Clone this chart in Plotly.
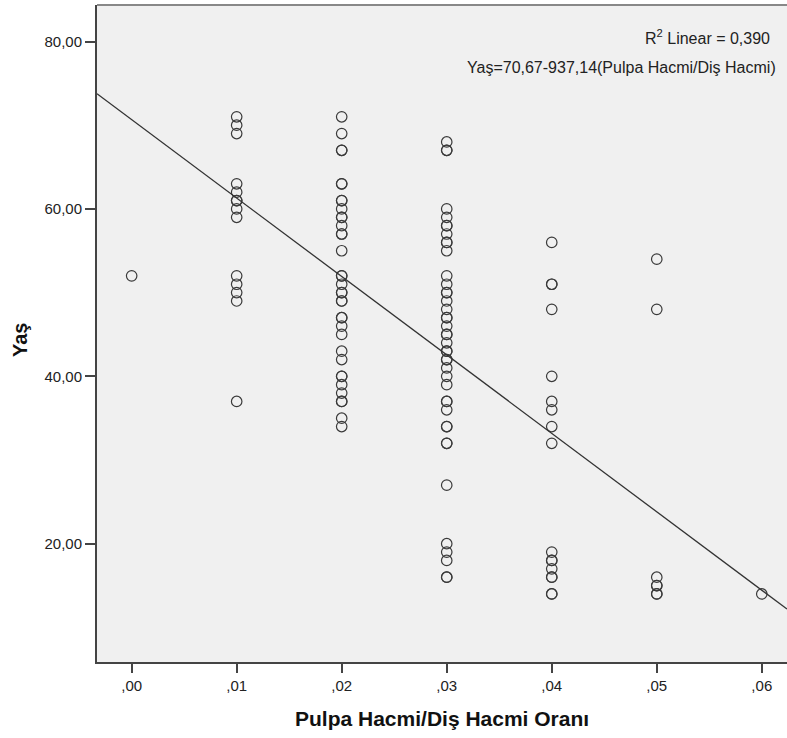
import plotly.graph_objects as go

# Ratio levels (Pulpa Hacmi / Diş Hacmi Oranı)
ratio_levels = [0.00, 0.01, 0.02, 0.03, 0.04, 0.05, 0.06]
tick_labels_x = [",00", ",01", ",02", ",03", ",04", ",05", ",06"]

# Ages (Yaş) at each ratio level
ages_00 = [52]
ages_01 = [71, 70, 69, 63, 62, 61, 61, 60, 59, 52, 51, 50, 49, 37]
ages_02 = [71, 69, 67, 67, 63, 63, 61, 61, 60, 59, 59, 58, 57, 57, 55, 52, 52,
           51, 50, 50, 49, 49, 47, 47, 46, 45, 43, 42, 40, 40, 39, 38, 37, 37, 35, 34]
ages_03 = [68, 67, 67, 60, 59, 58, 58, 57, 56, 56, 55, 52, 51, 50, 50, 49, 48, 47, 47,
           46, 45, 45, 44, 43, 43, 42, 42, 41, 40, 39, 37, 37, 36, 34, 34, 32, 32,
           27, 20, 19, 18, 16, 16]
ages_04 = [56, 51, 51, 48, 40, 37, 36, 34, 32, 19, 18, 18, 17, 16, 16, 14, 14]
ages_05 = [54, 48, 16, 15, 15, 14, 14]
ages_06 = [14]

age_groups = [ages_00, ages_01, ages_02, ages_03, ages_04, ages_05, ages_06]

# Fit line (from the chart annotation)
intercept = 70.67
slope = -937.14
r_squared = "0,390"

y_tick_vals = [20, 40, 60, 80]
y_tick_text = ["20,00", "40,00", "60,00", "80,00"]

x_range = [-0.0033, 0.0624]
y_range = [5.87, 84.36]

xs, ys = [], []
for lvl, grp in zip(ratio_levels, age_groups):
    for a in grp:
        xs.append(lvl)
        ys.append(a)

font_family = "Liberation Sans, Arial, sans-serif"
dark = "#333333"

fig = go.Figure()
fig.add_trace(go.Scatter(
    x=xs, y=ys, mode="markers",
    marker=dict(symbol="circle-open", size=10.5, color="#3a3a3a",
                line=dict(width=1.2, color="#3a3a3a")),
    hoverinfo="x+y", showlegend=False,
))

line_x = list(x_range)
line_y = [intercept + slope * v for v in line_x]
fig.add_trace(go.Scatter(
    x=line_x, y=line_y, mode="lines",
    line=dict(color=dark, width=1.3), showlegend=False, hoverinfo="skip",
))

fig.update_layout(
    width=787, height=738,
    margin=dict(l=97, r=0, t=5, b=76),
    paper_bgcolor="white", plot_bgcolor="#f0f0f0",
    font=dict(family=font_family, color="#222222", size=15),
    xaxis=dict(range=x_range, tickvals=ratio_levels, ticktext=tick_labels_x,
               showgrid=False, zeroline=False, showline=True, linecolor="#444444",
               linewidth=2, mirror=False, ticks="outside", ticklen=9, tickwidth=2,
               tickcolor="#444444", tickfont=dict(size=15, color="#222222"),
               automargin=False),
    yaxis=dict(range=y_range, tickvals=y_tick_vals, ticktext=y_tick_text,
               showgrid=False, zeroline=False, showline=True, linecolor="#444444",
               linewidth=2, ticks="outside", ticklen=10, tickwidth=2,
               tickcolor="#444444", tickfont=dict(size=15, color="#222222"),
               automargin=False),
    shapes=[dict(type="line", xref="paper", yref="paper", x0=0, x1=1, y0=1, y1=1,
                 line=dict(color="#888888", width=2))],
    annotations=[
        dict(text="R<sup>2</sup> Linear = " + r_squared, xref="paper", yref="paper",
             x=0.978, y=1, xanchor="right", yanchor="middle", yshift=-32,
             showarrow=False, font=dict(size=16, color="#222222", family=font_family)),
        dict(text="Yaş=70,67-937,14(Pulpa Hacmi/Diş Hacmi)", xref="paper", yref="paper",
             x=0.987, y=1, xanchor="right", yanchor="middle", yshift=-62,
             showarrow=False, font=dict(size=16, color="#222222", family=font_family)),
        dict(text="<b>Pulpa Hacmi/Diş Hacmi Oranı</b>", xref="paper", yref="paper",
             x=0.5, y=0, xanchor="center", yanchor="middle", yshift=-56,
             showarrow=False, font=dict(size=21, color="#111111", family=font_family)),
        dict(text="<b>Yaş</b>", xref="paper", yref="paper", textangle=-90,
             x=0, y=0.49, xanchor="center", yanchor="middle", xshift=-77,
             showarrow=False, font=dict(size=20, color="#111111", family=font_family)),
    ],
)

fig.write_html("out.html", config={"displayModeBar": False},
               post_script="document.body.style.margin='0';document.body.style.overflow='hidden';")
